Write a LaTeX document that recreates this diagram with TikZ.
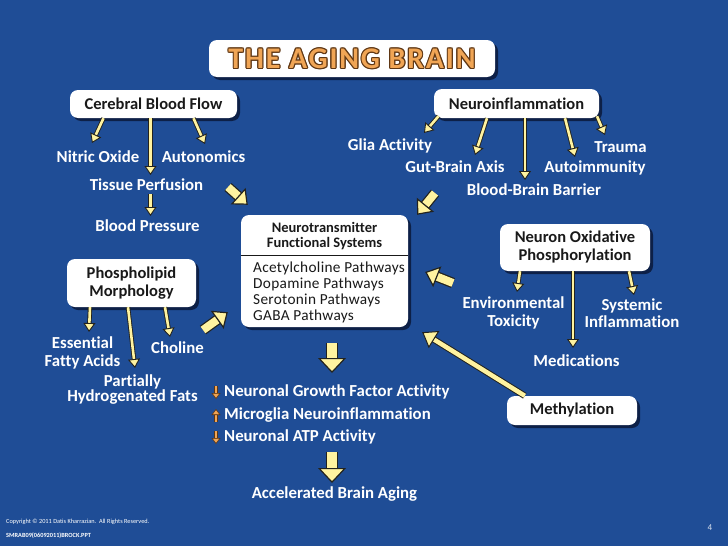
\documentclass[tikz,border=0pt]{standalone}
\usepackage{fontspec}
\setmainfont{Carlito}[Ligatures=NoCommon]
\newfontfamily\titlefont[LetterSpace=6,Ligatures=NoCommon]{Carlito}
\newfontfamily\listfamily[LetterSpace=2,Ligatures=NoCommon]{Carlito}
\usepackage{tikz}
\usetikzlibrary{arrows.meta,shadows,positioning}

\definecolor{slide}{RGB}{31,77,150}
\definecolor{pale}{RGB}{255,243,160}
\definecolor{edge}{RGB}{35,35,30}
\definecolor{tangerine}{RGB}{240,165,85}
\definecolor{rust}{RGB}{95,55,20}
\definecolor{boxtext}{RGB}{25,25,25}
\definecolor{shade}{RGB}{8,18,45}

\newcommand\boxfont{\fontsize{16.5}{18}\selectfont\bfseries}
\newcommand\tagfont{\fontsize{16.8}{18.5}\selectfont\bfseries}
\newcommand\headfont{\fontsize{14.5}{15}\selectfont\bfseries}
\newcommand\pathwayfont{\listfamily\fontsize{15.3}{15.8}\selectfont}
\newcommand\ringed[1]{\leavevmode
  \foreach \dx/\dy in {1.2/0,-1.2/0,0/1.2,0/-1.2,0.85/0.85,-0.85/0.85,0.85/-0.85,-0.85/-0.85}{%
    \rlap{\hspace*{\dx pt}\raisebox{\dy pt}{\textcolor{rust}{#1}}}}%
  \textcolor{tangerine}{#1}}

\tikzset{
  panel/.style={fill=white, rounded corners=8pt, text=boxtext, font=\boxfont,
    align=center, inner sep=0pt,
    drop shadow={shadow xshift=3pt, shadow yshift=-3pt, fill=shade, opacity=0.75}},
  tag/.style={text=white, font=\tagfont, align=center, inner sep=1pt},
  feed/.style={draw=pale, line width=2.6pt,
    -{Triangle[length=9pt,width=12pt,line width=0.9pt,color=edge,fill=pale]},
    preaction={draw=edge, line width=4.4pt, arrows=-, shorten >=6pt}},
  longfeed/.style={draw=pale, line width=4.5pt,
    -{Triangle[length=14pt,width=20pt,line width=1pt,color=edge,fill=pale]},
    preaction={draw=edge, line width=6.5pt, arrows=-, shorten >=9pt}},
  bigfeed/.style={draw=pale, line width=8pt,
    -{Triangle[length=13pt,width=22pt,line width=1.2pt,color=edge,fill=pale]},
    preaction={draw=edge, line width=10.5pt, arrows=-, shorten >=8pt}},
  dropfeed/.style={draw=pale, line width=10pt,
    -{Triangle[length=15pt,width=28pt,line width=1.2pt,color=edge,fill=pale]},
    preaction={draw=edge, line width=12.5pt, arrows=-, shorten >=9pt}},
  nudge/.style={draw=tangerine, line width=2.4pt,
    -{Triangle[length=6pt,width=9pt,line width=0.6pt,color=rust,fill=tangerine]},
    preaction={draw=rust, line width=3.4pt, arrows=-, shorten >=4pt}},
}

\begin{document}
\begin{tikzpicture}[x=1pt, y=-1pt]
  \useasboundingbox (0,0) rectangle (728,546);
  \fill[slide] (0,0) rectangle (728,546);

  % title
  \node[panel, minimum width=286pt, minimum height=37pt,
        font={\titlefont\fontsize{30}{32}\selectfont\bfseries}] (title) at (352,58.5) {\ringed{THE AGING BRAIN}};

  % boxes
  \node[panel, minimum width=167pt, minimum height=28pt] (cbf) at (153.5,104) {Cerebral Blood Flow};
  \node[panel, minimum width=165pt, minimum height=29pt] (ni) at (516.5,103.5) {Neuroinflammation};
  \node[panel, minimum width=150pt, minimum height=47pt] (nop) at (575,247.5) {Neuron Oxidative\\Phosphorylation};
  \node[panel, minimum width=129pt, minimum height=48pt] (phos) at (131.5,283) {Phospholipid\\Morphology};
  \node[panel, minimum width=130pt, minimum height=29pt] (methyl) at (572,410.5) {Methylation};
  \node[panel, minimum width=167pt, minimum height=112pt] (nt) at (324.5,271) {};
  \node[font=\headfont, text=boxtext, align=center] (nthead) at (324.5,236) {Neurotransmitter\\Functional Systems};
  \draw[boxtext, line width=0.9pt] (nt.west |- 0,255) -- (nt.east |- 0,255);
  \node[font=\pathwayfont, text=boxtext, align=left, anchor=north west, inner sep=0pt] (ntlist) at (253,262)
    {Acetylcholine Pathways\\Dopamine Pathways\\Serotonin Pathways\\GABA Pathways};

  % labels
  \node[tag] (nitric) at (98,157) {Nitric Oxide};
  \node[tag] (autonomics) at (203.5,157) {Autonomics};
  \node[tag] (tissue) at (146.5,185) {Tissue Perfusion};
  \node[tag] (bloodp) at (147.5,226) {Blood Pressure};
  \node[tag] (glia) at (390,146) {Glia Activity};
  \node[tag] (gutbrain) at (455,167) {Gut-Brain Axis};
  \node[tag] (bbb) at (534,190) {Blood-Brain Barrier};
  \node[tag] (trauma) at (620.5,147) {Trauma};
  \node[tag] (autoimm) at (595,168) {Autoimmunity};
  \node[tag] (envtox) at (513.5,313) {Environmental\\Toxicity};
  \node[tag, font={\fontsize{16.8}{16.5}\selectfont\bfseries}] (sysinfl) at (632,313) {Systemic\\Inflammation};
  \node[tag] (medications) at (576.5,361) {Medications};
  \node[tag] (efa) at (82.5,353) {Essential\\Fatty Acids};
  \node[tag] (choline) at (177.5,348) {Choline};
  \node[tag, font={\fontsize{16.8}{15}\selectfont\bfseries}] (phf) at (132.5,390) {Partially\\Hydrogenated Fats};
  \node[tag, anchor=west, inner sep=0pt] (growth) at (224,392) {Neuronal Growth Factor Activity};
  \node[tag, anchor=west, inner sep=0pt] (microglia) at (224,415) {Microglia Neuroinflammation};
  \node[tag, anchor=west, inner sep=0pt] (atp) at (224,437) {Neuronal ATP Activity};
  \node[tag] (aging) at (334.5,494) {Accelerated Brain Aging};

  % footer
  \node[text=white, font=\fontsize{6.3}{7}\selectfont, anchor=west, inner sep=0pt] (copy) at (6,522)
    {Copyright \textcopyright{} 2011 Datis Kharrazian.\ \ All Rights Reserved.};
  \node[text=white, font=\fontsize{6.3}{7}\selectfont\bfseries, anchor=west, inner sep=0pt] (deck) at (6,536)
    {SMRAB09(06092011)BROCK.PPT};
  \node[text=white!85!slide, font=\fontsize{9}{10}\selectfont, inner sep=0pt] (pageno) at (710,528) {4};

  % free tails of the fat arrows
  \coordinate (cbfout) at (228,187);
  \coordinate (niout) at (435,193);
  \coordinate (nopout) at (453,283);
  \coordinate (phosout) at (203,330);

  % cerebral blood flow
  \draw[feed] ([xshift=-50pt]cbf.south) -- ([xshift=-6pt,yshift=14pt]nitric.center);
  \draw[feed] ([xshift=-3pt]cbf.south) -- ([xshift=4pt,yshift=10pt]tissue.center);
  \draw[feed] ([xshift=40pt]cbf.south) -- ([xshift=1.5pt,yshift=13pt]autonomics.center);
  \draw[feed] ([xshift=4pt,yshift=-9pt]tissue.center) -- ([xshift=3pt,yshift=10pt]bloodp.center);

  % neuroinflammation
  \draw[feed] ([xshift=-78pt,yshift=2pt]ni.south) -- ([xshift=34pt,yshift=13pt]glia.center);
  \draw[feed] ([xshift=-29.5pt]ni.south) -- ([xshift=20pt,yshift=12pt]gutbrain.center);
  \draw[feed] ([xshift=8.5pt]ni.south) -- ([xshift=-9pt,yshift=10pt]bbb.center);
  \draw[feed] ([xshift=48.5pt]ni.south) -- ([xshift=-20pt,yshift=11pt]autoimm.center);
  \draw[feed] ([xshift=80.5pt,yshift=2pt]ni.south) -- ([xshift=-15.5pt,yshift=12pt]trauma.center);

  % oxidative phosphorylation
  \draw[feed] ([xshift=-55pt]nop.south) -- ([xshift=3.5pt,yshift=21pt]envtox.center);
  \draw[feed] ([xshift=-2pt]nop.south) -- ([xshift=-3.5pt,yshift=13pt]medications.center);
  \draw[feed] ([xshift=54pt]nop.south) -- ([xshift=2pt,yshift=18pt]sysinfl.center);

  % phospholipids
  \draw[feed] ([xshift=-41.5pt]phos.south) -- ([xshift=6.5pt,yshift=21pt]efa.center);
  \draw[feed] ([xshift=-3.5pt]phos.south) -- ([xshift=2.5pt,yshift=22pt]phf.center);
  \draw[feed] ([xshift=33.5pt]phos.south) -- ([xshift=-7.5pt,yshift=11pt]choline.center);

  % into the neurotransmitter box
  \draw[bigfeed] (cbfout) -- ([xshift=7pt,yshift=10pt]nt.north west);
  \draw[bigfeed] (niout) -- ([xshift=9pt,yshift=0pt]nt.north east);
  \draw[bigfeed] (nopout) -- ([xshift=17pt,yshift=-1pt]nt.east);
  \draw[bigfeed] (phosout) -- ([xshift=-13pt,yshift=15pt]nt.south west);
  \draw[longfeed] ([xshift=18pt]methyl.north west) -- ([xshift=14pt,yshift=-5pt]nt.south east);

  % outcome
  \draw[dropfeed] ([xshift=7.5pt,yshift=-16pt]nt.south) -- ([xshift=108pt,yshift=19pt]growth.west);
  \draw[dropfeed] ([xshift=108pt,yshift=-15pt]atp.west) -- ([xshift=-2.5pt,yshift=11pt]aging.center);
  \draw[nudge] ([xshift=-8pt,yshift=6pt]growth.west) -- ([xshift=-8pt,yshift=-7pt]growth.west);
  \draw[nudge] ([xshift=-8pt,yshift=-7pt]microglia.west) -- ([xshift=-8pt,yshift=6pt]microglia.west);
  \draw[nudge] ([xshift=-8pt,yshift=6pt]atp.west) -- ([xshift=-8pt,yshift=-7pt]atp.west);
\end{tikzpicture}
\end{document}
